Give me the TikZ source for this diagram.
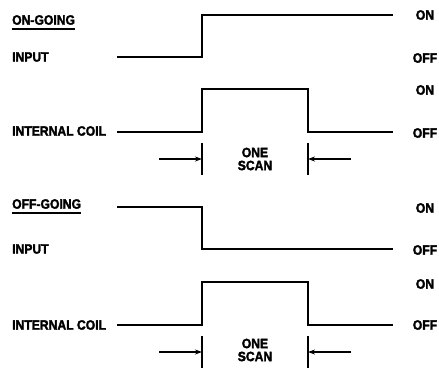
\documentclass[tikz,border=0pt]{standalone}
\usepackage{fontspec}
\setmainfont{Liberation Sans}[BoldFeatures={FakeBold=2.2,FakeStretch=0.9}]
\usetikzlibrary{arrows.meta,calc}
\begin{document}
\begin{tikzpicture}[x=1pt,y=-1pt,
  lbl/.style={font=\bfseries\fontsize{13.5}{13}\selectfont, inner sep=0pt},
  llbl/.style={lbl, anchor=west},
  rlbl/.style={lbl, anchor=center},
  wave/.style={line width=1.5pt, line join=miter},
  tick/.style={line width=1.3pt},
  scanarrow/.style={line width=1.1pt, -{Stealth[length=7pt,width=5pt]}},
  uline/.style={line width=1.4pt}]
\useasboundingbox (0,0) rectangle (439,368);

% ---------- ON-GOING ----------
\node[llbl] (ong) at (12,20) {ON-GOING};
\draw[uline] ($(ong.south west)+(0,4)$) -- ($(ong.south east)+(0,4)$);
\node[llbl] (in1) at (12,57) {INPUT};
\node[rlbl] (on1) at (425,15) {ON};
\node[rlbl] (off1) at (425,58) {OFF};
\node[rlbl] (on2) at (425,90) {ON};
\node[llbl] (ic1) at (12,131) {INTERNAL COIL};
\node[rlbl] (off2) at (425,133) {OFF};

\coordinate (a0) at (117,57);
\coordinate (a1) at (202,57);
\coordinate (a2) at (202,15);
\coordinate (a3) at (393,15);
\draw[wave] (a0) -- (a1) -- (a2) -- (a3);

\coordinate (b0) at (117,132);
\coordinate (b1) at (202,132);
\coordinate (b2) at (202,89);
\coordinate (b3) at (308,89);
\coordinate (b4) at (308,132);
\coordinate (b5) at (393,132);
\draw[wave] (b0) -- (b1) -- (b2) -- (b3) -- (b4) -- (b5);

\coordinate (t1a) at (202,143);
\coordinate (t1b) at (202,175);
\coordinate (t2a) at (308,143);
\coordinate (t2b) at (308,175);
\draw[tick] (t1a) -- (t1b);
\draw[tick] (t2a) -- (t2b);
\coordinate (s1) at (159,159);
\coordinate (e1) at (202,159);
\coordinate (s2) at (351,159);
\coordinate (e2) at (308,159);
\draw[scanarrow] (s1) -- (e1);
\draw[scanarrow] (s2) -- (e2);
\node[lbl, align=center] (scan1) at (255,159) {ONE\\SCAN};

% ---------- OFF-GOING ----------
\node[llbl] (offg) at (12,204) {OFF-GOING};
\draw[uline] ($(offg.south west)+(0,4)$) -- ($(offg.south east)+(0,4)$);
\node[llbl] (in2) at (12,249) {INPUT};
\node[rlbl] (on3) at (425,208) {ON};
\node[rlbl] (off3) at (425,250) {OFF};
\node[rlbl] (on4) at (425,284) {ON};
\node[llbl] (ic2) at (12,325) {INTERNAL COIL};
\node[rlbl] (off4) at (425,325) {OFF};

\coordinate (c0) at (117,207);
\coordinate (c1) at (202,207);
\coordinate (c2) at (202,249);
\coordinate (c3) at (393,249);
\draw[wave] (c0) -- (c1) -- (c2) -- (c3);

\coordinate (d0) at (117,325);
\coordinate (d1) at (202,325);
\coordinate (d2) at (202,282);
\coordinate (d3) at (308,282);
\coordinate (d4) at (308,325);
\coordinate (d5) at (393,325);
\draw[wave] (d0) -- (d1) -- (d2) -- (d3) -- (d4) -- (d5);

\coordinate (t3a) at (202,336);
\coordinate (t3b) at (202,368);
\coordinate (t4a) at (308,336);
\coordinate (t4b) at (308,368);
\draw[tick] (t3a) -- (t3b);
\draw[tick] (t4a) -- (t4b);
\coordinate (s3) at (159,352);
\coordinate (e3) at (202,352);
\coordinate (s4) at (351,352);
\coordinate (e4) at (308,352);
\draw[scanarrow] (s3) -- (e3);
\draw[scanarrow] (s4) -- (e4);
\node[lbl, align=center] (scan2) at (255,350) {ONE\\SCAN};
\end{tikzpicture}
\end{document}
